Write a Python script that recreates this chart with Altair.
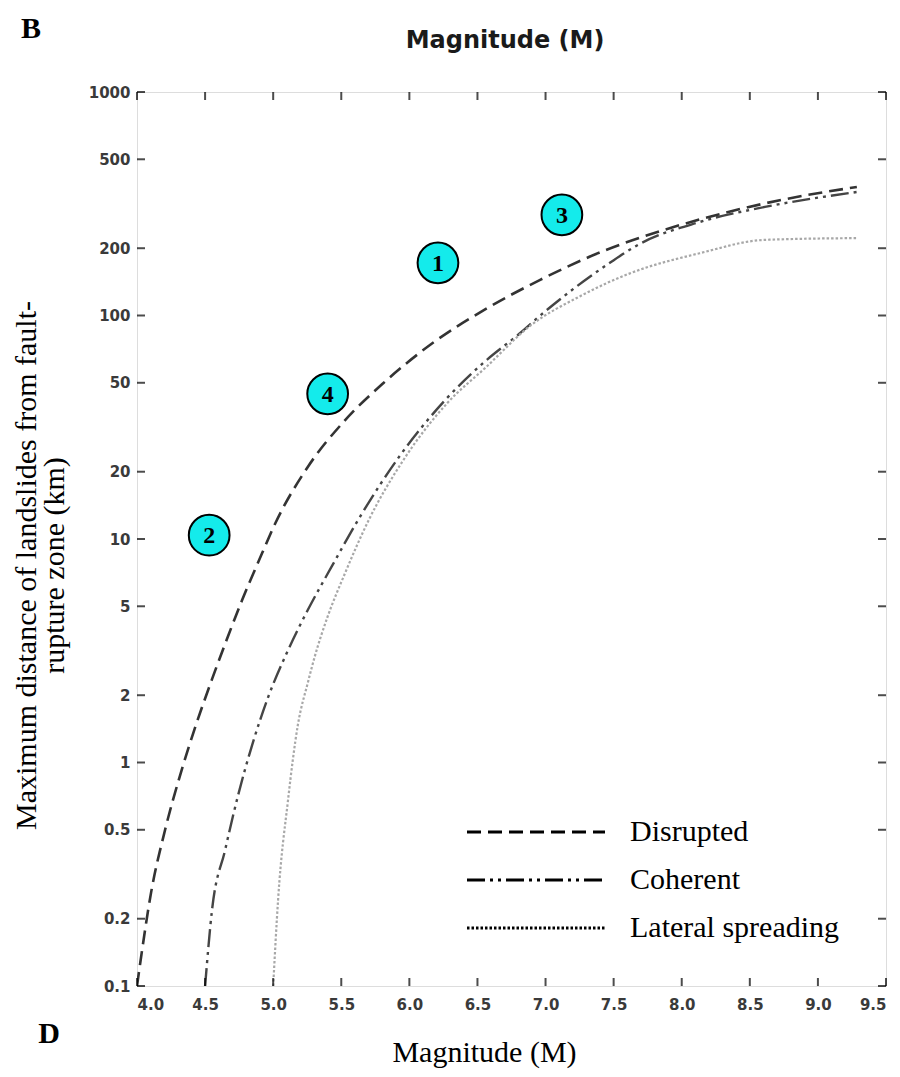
import altair as alt
import pandas as pd

# ---------------- data ----------------
series_names = ["Disrupted", "Coherent", "Lateral spreading"]

disrupted_m = [4.0, 4.024, 4.103, 4.206, 4.317, 4.421, 4.551, 4.669, 4.772, 4.919, 5.014,
               5.254, 5.522, 5.810, 6.171, 6.550, 6.957, 7.440, 7.866, 8.316, 8.733, 9.286]
disrupted_d = [0.1, 0.127, 0.261, 0.499, 0.879, 1.40, 2.36, 3.68, 5.33, 8.65, 11.7,
               21.0, 33.7, 49.9, 75.3, 106, 144, 196, 241, 288, 329, 376]

coherent_m = [4.5, 4.551, 4.647, 4.743, 4.846, 4.963, 5.109, 5.254, 5.428, 5.645, 5.935,
              6.264, 6.550, 6.814, 6.957, 7.478, 7.679, 8.132, 8.611, 9.286]
coherent_d = [0.1, 0.219, 0.406, 0.716, 1.20, 1.96, 3.18, 4.81, 7.50, 12.8, 23.8,
              41.9, 61.9, 83.5, 99.5, 173, 207, 262, 306, 357]

lateral_m = [5.0, 5.036, 5.109, 5.181, 5.254, 5.304, 5.399, 5.522, 5.703, 5.957, 6.279,
             6.564, 6.886, 7.254, 7.627, 8.132, 8.611, 9.286]
lateral_d = [0.1, 0.243, 0.679, 1.47, 2.27, 2.96, 4.48, 6.90, 12.2, 22.6, 40.6,
             58.8, 89.8, 122, 155, 190, 218, 222]

marker_labels = ["1", "2", "3", "4"]
marker_m = [6.21, 4.53, 7.12, 5.40]
marker_d = [172, 10.4, 282, 44.6]

x_ticks = [4.0, 4.5, 5.0, 5.5, 6.0, 6.5, 7.0, 7.5, 8.0, 8.5, 9.0, 9.5]
y_ticks = [0.1, 0.2, 0.5, 1, 2, 5, 10, 20, 50, 100, 200, 500, 1000]

# ---------------- tables ----------------
rows = []
for name, ms, ds in zip(series_names,
                        [disrupted_m, coherent_m, lateral_m],
                        [disrupted_d, coherent_d, lateral_d]):
    for i, (m, d) in enumerate(zip(ms, ds)):
        rows.append({"series": name, "M": m, "D": d, "order": i})
curves = pd.DataFrame(rows)
markers = pd.DataFrame({"label": marker_labels, "M": marker_m, "D": marker_d})
xt = pd.DataFrame({"v": x_ticks})
yt = pd.DataFrame({"v": y_ticks})

W, H = 749, 894
SERIF = "Liberation Serif"
SANS = "DejaVu Sans"

xscale = alt.Scale(domain=[4.0, 9.5], nice=False, zero=False)
yscale = alt.Scale(type="log", domain=[0.1, 1000], nice=False)
dash_scale = alt.Scale(domain=series_names,
                       range=[[14, 7], [18, 5, 3, 5, 3, 5], [2.5, 2]])

x_axis = alt.Axis(values=x_ticks, format=".1f", ticks=False, domain=False, grid=False,
                  labelFont=SANS, labelFontSize=15, labelFontWeight="bold", labelColor="#3a3a3a",
                  labelPadding=11, title="Magnitude (M)", titleFont=SERIF, titleFontSize=30,
                  titleFontWeight="normal", titleColor="black", titleX=347, titleY=51,
                  titleBaseline="top", titleAlign="center")
y_axis = alt.Axis(values=y_ticks, format="~g", ticks=False, domain=False, grid=False,
                  labelFont=SANS, labelFontSize=15, labelFontWeight="bold", labelColor="#3a3a3a",
                  labelPadding=7,
                  title=["Maximum distance of landslides from fault-", "rupture zone (km)"],
                  titleFont=SERIF, titleFontSize=30, titleFontWeight="normal", titleColor="black",
                  titleAngle=270, titleX=-126, titleY=473, titleAlign="center",
                  titleBaseline="top", titleLineHeight=28)

legend = alt.Legend(orient="none", legendX=443, legendY=725, title=None,
                    symbolType="M-12.8,0H1", symbolSize=400, symbolStrokeWidth=3,
                    symbolStrokeColor="black", labelFont=SERIF, labelFontSize=30,
                    labelColor="black", labelOffset=20, rowPadding=18, padding=0,
                    labelLimit=400)


def X(f):
    return alt.X(f, scale=xscale, axis=x_axis)


def Y(f):
    return alt.Y(f, scale=yscale, axis=y_axis)


def series_layer(name, color, width):
    return alt.Chart(curves).transform_filter(alt.datum.series == name).mark_line(
        interpolate="monotone", clip=True, color=color, strokeWidth=width
    ).encode(
        x=X("M:Q"),
        y=Y("D:Q"),
        strokeDash=alt.StrokeDash("series:N", scale=dash_scale, legend=legend),
        order="order:Q",
    )


line_disrupted = series_layer("Disrupted", "#333333", 2.6)
line_coherent = series_layer("Coherent", "#454545", 2.4)
line_lateral = series_layer("Lateral spreading", "#a8a8a8", 2.2)

circles = alt.Chart(markers).mark_circle(size=1660, color="#14EBEB", opacity=1,
                                         stroke="black", strokeWidth=2).encode(
    x=X("M:Q"), y=Y("D:Q"))
numbers = alt.Chart(markers).mark_text(font=SERIF, fontWeight="bold", fontSize=24,
                                       color="black", baseline="middle", dy=1).encode(
    x=X("M:Q"), y=Y("D:Q"), text="label:N")

tick_style = dict(thickness=2, color="black", size=8)
left_ticks = alt.Chart(yt).mark_tick(orient="horizontal", **tick_style).encode(
    y=Y("v:Q"), x=alt.value(4))
right_ticks = alt.Chart(yt).mark_tick(orient="horizontal", **tick_style).encode(
    y=Y("v:Q"), x=alt.value(W - 4))
top_ticks = alt.Chart(xt).mark_tick(orient="vertical", **tick_style).encode(
    x=X("v:Q"), y=alt.value(4))
bottom_ticks = alt.Chart(xt).mark_tick(orient="vertical", **tick_style).encode(
    x=X("v:Q"), y=alt.value(H - 4))

top_title = alt.Chart(pd.DataFrame({"t": ["Magnitude (M)"]})).mark_text(
    font=SANS, fontWeight="bold", fontSize=24, color="#1a1a1a", align="center",
    baseline="middle").encode(text="t:N", x=alt.value(368), y=alt.value(-51))
letter_b = alt.Chart(pd.DataFrame({"t": ["B"]})).mark_text(
    font=SERIF, fontWeight="bold", fontSize=30, color="black", align="center",
    baseline="middle").encode(text="t:N", x=alt.value(-106), y=alt.value(-63))
letter_d = alt.Chart(pd.DataFrame({"t": ["D"]})).mark_text(
    font=SERIF, fontWeight="bold", fontSize=30, color="black", align="center",
    baseline="middle").encode(text="t:N", x=alt.value(-88), y=alt.value(942))

chart = alt.layer(
    line_disrupted, line_coherent, line_lateral,
    left_ticks, right_ticks, top_ticks, bottom_ticks, circles, numbers,
    top_title, letter_b, letter_d
).properties(
    width=W, height=H,
    autosize=alt.AutoSizeParams(type="none"),
    padding={"left": 129, "top": 84, "right": 4, "bottom": 90},
).configure_view(
    stroke="black", strokeWidth=2.5
).configure(background="white")

chart.save("out.html", embed_options={"renderer": "svg", "actions": False})
